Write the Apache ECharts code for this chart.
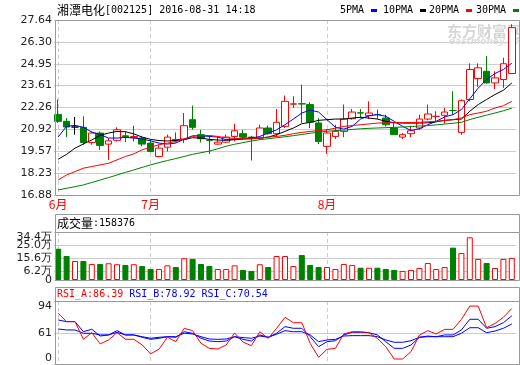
<!DOCTYPE html>
<html><head><meta charset="utf-8">
<script src="https://cdn.jsdelivr.net/npm/echarts@6/dist/echarts.min.js"></script>
<style>html,body{margin:0;padding:0;background:#fff;}#c{width:520px;height:365px;}</style>
</head><body><div id="c"></div>
<script>
// ---- data ----
const dates = ['06-16','06-17','06-20','06-21','06-22','06-23','06-24','06-27','06-28','06-29','06-30',
  '07-01','07-04','07-05','07-06','07-07','07-08','07-11','07-12','07-13','07-14','07-15','07-18','07-19','07-20','07-21','07-22','07-25','07-26','07-27','07-28','07-29',
  '08-01','08-02','08-03','08-04','08-05','08-08','08-09','08-10','08-11','08-12','08-15','08-16','08-17','08-18','08-19','08-22','08-23','08-24','08-25','08-26','08-29','08-30','08-31'];
const opens  = [21.82,21.41,21.06,21.04,20.11,20.69,20.01,20.24,20.52,20.42, 20.38,20.07,19.25,19.82,20.30,20.32,21.51,20.59,20.25,20.01, 20.13,20.48,20.65,20.44,20.38,21.00,20.65,21.10,22.47,22.49, 22.44,21.31,19.87,20.48,20.79,21.57,21.93,21.76,21.83,21.61, 21.00,20.44,20.65,21.00,21.55,21.71,21.78,22.08,20.73,22.75, 24.04,24.49,23.77,23.98,24.35];
const closes = [21.41,21.06,21.06,20.11,20.69,19.93,20.21,20.89,20.42,20.48, 20.01,19.56,19.76,20.44,20.22,21.14,21.04,20.34,20.24,20.13, 20.44,20.83,20.44,20.36,21.00,20.65,21.35,22.64,22.48,22.48, 21.35,20.17,20.69,20.79,21.55,21.98,21.92,21.92,21.82,21.20, 20.59,20.59,20.83,21.55,21.86,21.72,21.98,22.07,22.68,24.60, 24.70,23.77,24.08,24.95,27.17];
const lows   = [21.31,20.44,20.59,19.97,19.97,19.66,19.04,20.17,20.13,20.17, 19.87,19.50,19.20,19.55,20.11,20.07,20.89,20.11,19.41,19.97, 20.07,20.17,20.28,19.00,20.28,20.59,20.44,21.00,22.23,21.31, 21.00,20.01,19.41,20.32,20.44,21.51,21.61,21.55,21.55,21.10, 20.59,20.32,20.44,20.89,21.47,21.41,21.26,21.82,20.59,22.64, 23.53,23.73,23.40,23.47,24.35];
const highs  = [22.75,21.61,21.68,21.72,20.79,20.79,20.38,21.04,20.79,21.14, 20.52,20.32,19.97,20.59,20.73,21.92,22.38,20.89,20.50,20.44, 20.59,21.26,20.89,20.52,21.20,21.14,22.17,22.99,22.95,23.67, 22.58,21.61,20.93,21.20,22.44,22.17,22.17,22.64,22.13,21.82, 21.35,20.69,21.14,21.82,22.44,22.03,22.23,23.26,22.75,24.97, 24.97,25.42,24.49,25.32,27.38];
const ma5  = [20.45,21.10,21.16,21.04,20.75,20.59,20.38,20.38,20.42,20.38, 20.32,20.21,20.07,20.01,20.07,20.32,20.52,20.52,20.48,20.44, 20.28,20.32,20.38,20.38,20.48,20.69,20.89,21.20,21.55,21.92, 22.10,21.98,21.51,21.04,20.93,21.10,21.55,21.76,21.82,21.72, 21.41,21.10,20.85,20.95,21.20,21.41,21.68,21.82,22.13,22.80, 23.45,23.98,24.35,24.60,24.98];
const ma10 = [19.08,19.38,19.76,20.02,20.27,20.55,20.69,20.79,20.77,20.64, 20.44,20.30,20.23,20.20,20.23,20.30,20.40,20.38,20.30,20.26, 20.24,20.28,20.32,20.34,20.38,20.44,20.59,20.79,21.00,21.26, 21.35,21.47,21.51,21.55,21.55,21.61,21.66,21.61,21.55,21.41, 21.33,21.30,21.30,21.30,21.32,21.38,21.47,21.51,21.55,22.03, 22.44,22.75,23.06,23.32,23.77];
const ma20 = [17.81,18.11,18.32,18.53,18.63,18.73,18.83,19.04,19.25,19.41, 19.66,19.82,19.97,20.07,20.17,20.32,20.48,20.54,20.54,20.48, 20.40,20.36,20.34,20.34,20.38,20.44,20.48,20.55,20.65,20.73, 20.79,20.84,20.89,20.99,21.10,21.15,21.20,21.25,21.30,21.32, 21.33,21.33,21.34,21.35,21.38,21.41,21.46,21.51,21.62,21.82, 21.92,22.03,22.23,22.37,22.64];
const ma30 = [17.19,17.29,17.39,17.50,17.65,17.80,17.95,18.11,18.27,18.42, 18.58,18.73,18.87,19.00,19.12,19.25,19.38,19.48,19.58,19.72, 19.88,20.00,20.10,20.20,20.28,20.34,20.40,20.46,20.53,20.60, 20.68,20.74,20.80,20.84,20.87,20.91,20.95,20.98,21.00,21.02, 21.04,21.06,21.09,21.12,21.15,21.19,21.24,21.29,21.35,21.52, 21.66,21.79,21.92,22.06,22.22];
const volumes = [22.4,17.2,13.6,13.6,11.5,11.5,12.0,11.3,10.8,11.3, 10.0,7.9,7.9,10.5,9.3,15.6,15.1,11.5,10.0,7.9, 7.9,10.5,7.2,6.5,11.3,9.3,17.2,17.2,10.0,17.9, 10.8,9.3,9.3,7.9,11.5,10.8,8.8,8.8,8.8,7.9, 7.2,6.5,7.2,8.6,12.2,7.9,9.3,23.2,19.4,30.6, 15.1,12.2,8.6,15.1,15.84];
const volDirs = [-1,-1,1,-1,1,-1,1,1,-1,1, -1,-1,1,1,-1,1,-1,-1,-1,1, 1,1,-1,-1,1,-1,1,1,1,-1, -1,-1,1,1,1,1,-1,1,-1,-1, -1,1,1,1,1,1,1,-1,1,1, 1,-1,1,1,1];
const rsiA = [81.4,72.9,72.9,54.9,61.6,50.1,54.2,61.6,54.9,54.9, 49.1,40.0,44.7,56.9,52.5,66.1,63.7,50.8,45.5,45.0, 49.0,61.3,52.0,48.3,62.6,55.8,66.0,77.3,71.8,71.8, 50.7,36.4,44.6,45.6,60.3,62.6,62.6,61.6,55.8,47.3, 34.7,34.7,42.2,59.2,63.7,60.3,65.0,65.0,75.2,88.8, 88.8,66.7,71.1,77.3,86.39];
const rsiB = [74.6,72.9,72.9,62.6,65.1,58.2,59.3,63.7,59.3,59.3, 56.9,54.8,55.9,57.5,56.9,62.6,61.0,55.9,53.1,52.4, 53.1,57.5,54.8,53.1,59.3,56.9,61.0,67.8,66.1,66.1, 57.5,47.3,52.4,53.4,59.3,62.0,62.0,61.6,59.3,52.4, 45.6,45.6,49.0,56.9,58.2,57.5,59.3,59.3,64.4,75.3, 75.3,66.1,67.8,71.8,78.92];
const rsiC = [65.4,64.4,64.4,61.0,61.0,59.3,59.3,62.0,59.3,59.3, 57.5,55.9,56.9,57.5,57.5,61.0,60.3,57.5,55.2,54.8, 55.2,57.5,56.6,55.9,58.2,56.9,60.0,63.7,62.6,62.6, 59.3,52.4,54.2,54.8,58.2,58.6,58.6,58.6,57.5,54.2, 51.8,51.8,53.4,56.9,57.5,57.5,57.5,57.5,61.0,66.7, 66.7,61.6,63.3,66.1,70.54];
const priceTicks = [16.88,18.23,19.57,20.92,22.26,23.61,24.95,26.30,27.64];
const volTicks = [0,6.2,15.6,25.0,34.4];
const rsiTickValues = [29.6,61,94];
const rsiTickLabels = ['0','61','94'];
const titleName = '湘潭电化', titleInfo = '[002125] 2016-08-31 14:18';
const lastVolume = '158376';
const maNames = ['5PMA','10PMA','20PMA','30PMA'];
const maColors = ['#0000ff','#000000','#ff0000','#008000'];

// ---- chart ----
const isMonthStart = i => i === 0 || dates[i].slice(0,2) !== dates[i-1].slice(0,2);
const mono = '"DejaVu Sans Mono", monospace';
const cjk = '"Noto Sans CJK SC", sans-serif';
const sans = '"DejaVu Sans", sans-serif';
const gridCol = '#cccccc';
const frameCol = '#999999';

function xAx(g, showLabel) {
  return {
    type: 'category', gridIndex: g, data: dates, boundaryGap: true,
    axisLine: {show: false}, axisTick: {show: false},
    axisLabel: showLabel ? {show: true, interval: (i) => isMonthStart(i),
      formatter: v => parseInt(v.slice(0,2),10) + '月', color: '#ff0000', fontSize: 12, fontFamily: cjk, margin: 3} : {show: false},
    splitLine: {show: true, interval: (i) => isMonthStart(i), alignWithLabel: true, lineStyle: {color: gridCol, type: [4,3]}}
  };
}
const labelBase = {color: '#222', fontSize: 11, fontFamily: sans, margin: 2, showMinLabel: true, showMaxLabel: true};

const candleData = dates.map((d,i) => [opens[i], closes[i], lows[i], highs[i]]);
const volData = volumes.map((v,i) => ({value: v, itemStyle: volDirs[i] > 0
  ? {color: '#ffffff', borderColor: '#ff0000', borderWidth: 1}
  : {color: '#008000', borderColor: '#008000', borderWidth: 1}}));

function maLine(data, color, xi, yi) {
  return {type: 'line', xAxisIndex: xi, yAxisIndex: yi, data: data, symbol: 'none', smooth: false,
    lineStyle: {color: color, width: 1}, silent: true};
}

const chart = echarts.init(document.getElementById('c'), null, {renderer: 'canvas'});
const graphics = [
  {type: 'text', x: 57, y: 10, z: 50, style: {text: '{a|' + titleName + '}{b|' + titleInfo + '}', verticalAlign: 'middle',
    rich: {a: {fontFamily: cjk, fontSize: 12, fill: '#000'}, b: {fontFamily: mono, fontSize: 10, fill: '#000'}}}},
  {type: 'text', x: 447, y: 31, z: 1, style: {text: '东方财富网', fontFamily: cjk, fontSize: 15, fontWeight: 'bold', fill: '#d6d6d6', verticalAlign: 'middle'}},
  {type: 'text', x: 449, y: 42, z: 1, style: {text: 'eastmoney.com', fontFamily: sans, fontSize: 9, fontWeight: 'bold', fontStyle: 'italic', fill: '#dcdcdc', verticalAlign: 'middle'}},
  {type: 'rect', z: 100, silent: true, shape: {x: 55.5, y: 20.5, width: 464, height: 175}, style: {fill: 'none', stroke: frameCol, lineWidth: 1}},
  {type: 'rect', z: 100, silent: true, shape: {x: 55.5, y: 214.5, width: 464, height: 66}, style: {fill: 'none', stroke: frameCol, lineWidth: 1}},
  {type: 'line', z: 100, silent: true, shape: {x1: 55.5, y1: 232.5, x2: 519.5, y2: 232.5}, style: {stroke: frameCol, lineWidth: 1}},
  {type: 'rect', z: 100, silent: true, shape: {x: 55.5, y: 287.5, width: 464, height: 77}, style: {fill: 'none', stroke: frameCol, lineWidth: 1}},
  {type: 'line', z: 100, silent: true, shape: {x1: 55.5, y1: 301.5, x2: 519.5, y2: 301.5}, style: {stroke: frameCol, lineWidth: 1}},
  {type: 'text', x: 57, y: 223, z: 50, style: {text: '{a|成交量}{b|:' + lastVolume + '}', verticalAlign: 'middle',
    rich: {a: {fontFamily: cjk, fontSize: 12, fill: '#000'}, b: {fontFamily: mono, fontSize: 10, fill: '#000'}}}},
  {type: 'text', x: 57, y: 294, z: 50, style: {text: '{a|RSI_A:' + rsiA[rsiA.length-1].toFixed(2) + ' }{b|RSI_B:' + rsiB[rsiB.length-1].toFixed(2) + ' }{b|RSI_C:' + rsiC[rsiC.length-1].toFixed(2) + '}', verticalAlign: 'middle',
    rich: {a: {fontFamily: mono, fontSize: 10, fill: '#ff0000'}, b: {fontFamily: mono, fontSize: 10, fill: '#0000ff'}}}}
];
const legX = [340, 383, 429, 476];
maNames.forEach((n, k) => {
  graphics.push({type: 'text', x: legX[k], y: 10, z: 50, style: {text: n, fontFamily: mono, fontSize: 10, fill: '#000', verticalAlign: 'middle'}});
  graphics.push({type: 'rect', z: 50, shape: {x: legX[k] + n.length * 6 + 7, y: 9, width: 6, height: 3}, style: {fill: maColors[k]}});
});

chart.setOption({
  animation: false,
  backgroundColor: '#ffffff',
  grid: [
    {left: 54, right: 4, top: 20, height: 175},
    {left: 54, right: 4, top: 232, height: 48},
    {left: 54, right: 4, top: 301, height: 63}
  ],
  xAxis: [xAx(0, true), xAx(1, false), xAx(2, false)],
  yAxis: [
    {type: 'value', gridIndex: 0, min: 16.88, max: 27.64, axisLine: {show: false},
      axisTick: {show: false, customValues: priceTicks},
      axisLabel: Object.assign({}, labelBase, {customValues: priceTicks, formatter: v => v.toFixed(2)}),
      splitLine: {show: true, lineStyle: {color: gridCol}}},
    {type: 'value', gridIndex: 1, min: 0, max: 34.4, axisLine: {show: false},
      axisTick: {show: false, customValues: volTicks},
      axisLabel: {show: false},
      splitLine: {show: true, lineStyle: {color: gridCol}}},
    {type: 'value', gridIndex: 2, min: 29.6, max: 94, axisLine: {show: false},
      axisTick: {show: false, customValues: rsiTickValues},
      axisLabel: Object.assign({}, labelBase, {customValues: rsiTickValues, verticalAlignMaxLabel: 'top', verticalAlignMinLabel: 'bottom',
        formatter: v => rsiTickLabels[rsiTickValues.indexOf(v)]}),
      splitLine: {show: true, lineStyle: {color: gridCol}}}
  ],
  series: [
    {type: 'candlestick', xAxisIndex: 0, yAxisIndex: 0, data: candleData, barWidth: 7, silent: true,
      itemStyle: {color: '#ffffff', color0: '#008000', borderColor: '#ff0000', borderColor0: '#008000', borderColorDoji: '#000000', borderWidth: 1}},
    maLine(ma5, maColors[0], 0, 0),
    maLine(ma10, maColors[1], 0, 0),
    maLine(ma20, maColors[2], 0, 0),
    maLine(ma30, maColors[3], 0, 0),
    {type: 'bar', xAxisIndex: 1, yAxisIndex: 1, data: volData, barWidth: 6, silent: true},
    maLine(rsiC, '#0000ff', 2, 2),
    maLine(rsiB, '#0000ff', 2, 2),
    maLine(rsiA, '#ff0000', 2, 2)
  ],
  graphic: graphics
});

// volume axis labels placed through the volume axis scale (the library hides them when they crowd)
volTicks.forEach((v, k) => {
  const y = chart.convertToPixel({yAxisIndex: 1}, v);
  const isMax = k === volTicks.length - 1;
  graphics.push({type: 'text', x: 52, y: y, z: 50, silent: true,
    style: {text: v === 0 ? '0' : v.toFixed(1) + '万', fontFamily: sans, fontSize: 11, fill: '#222',
      align: 'right', verticalAlign: isMax ? 'top' : 'middle'}});
});
chart.setOption({graphic: graphics});
</script>
</body></html>
